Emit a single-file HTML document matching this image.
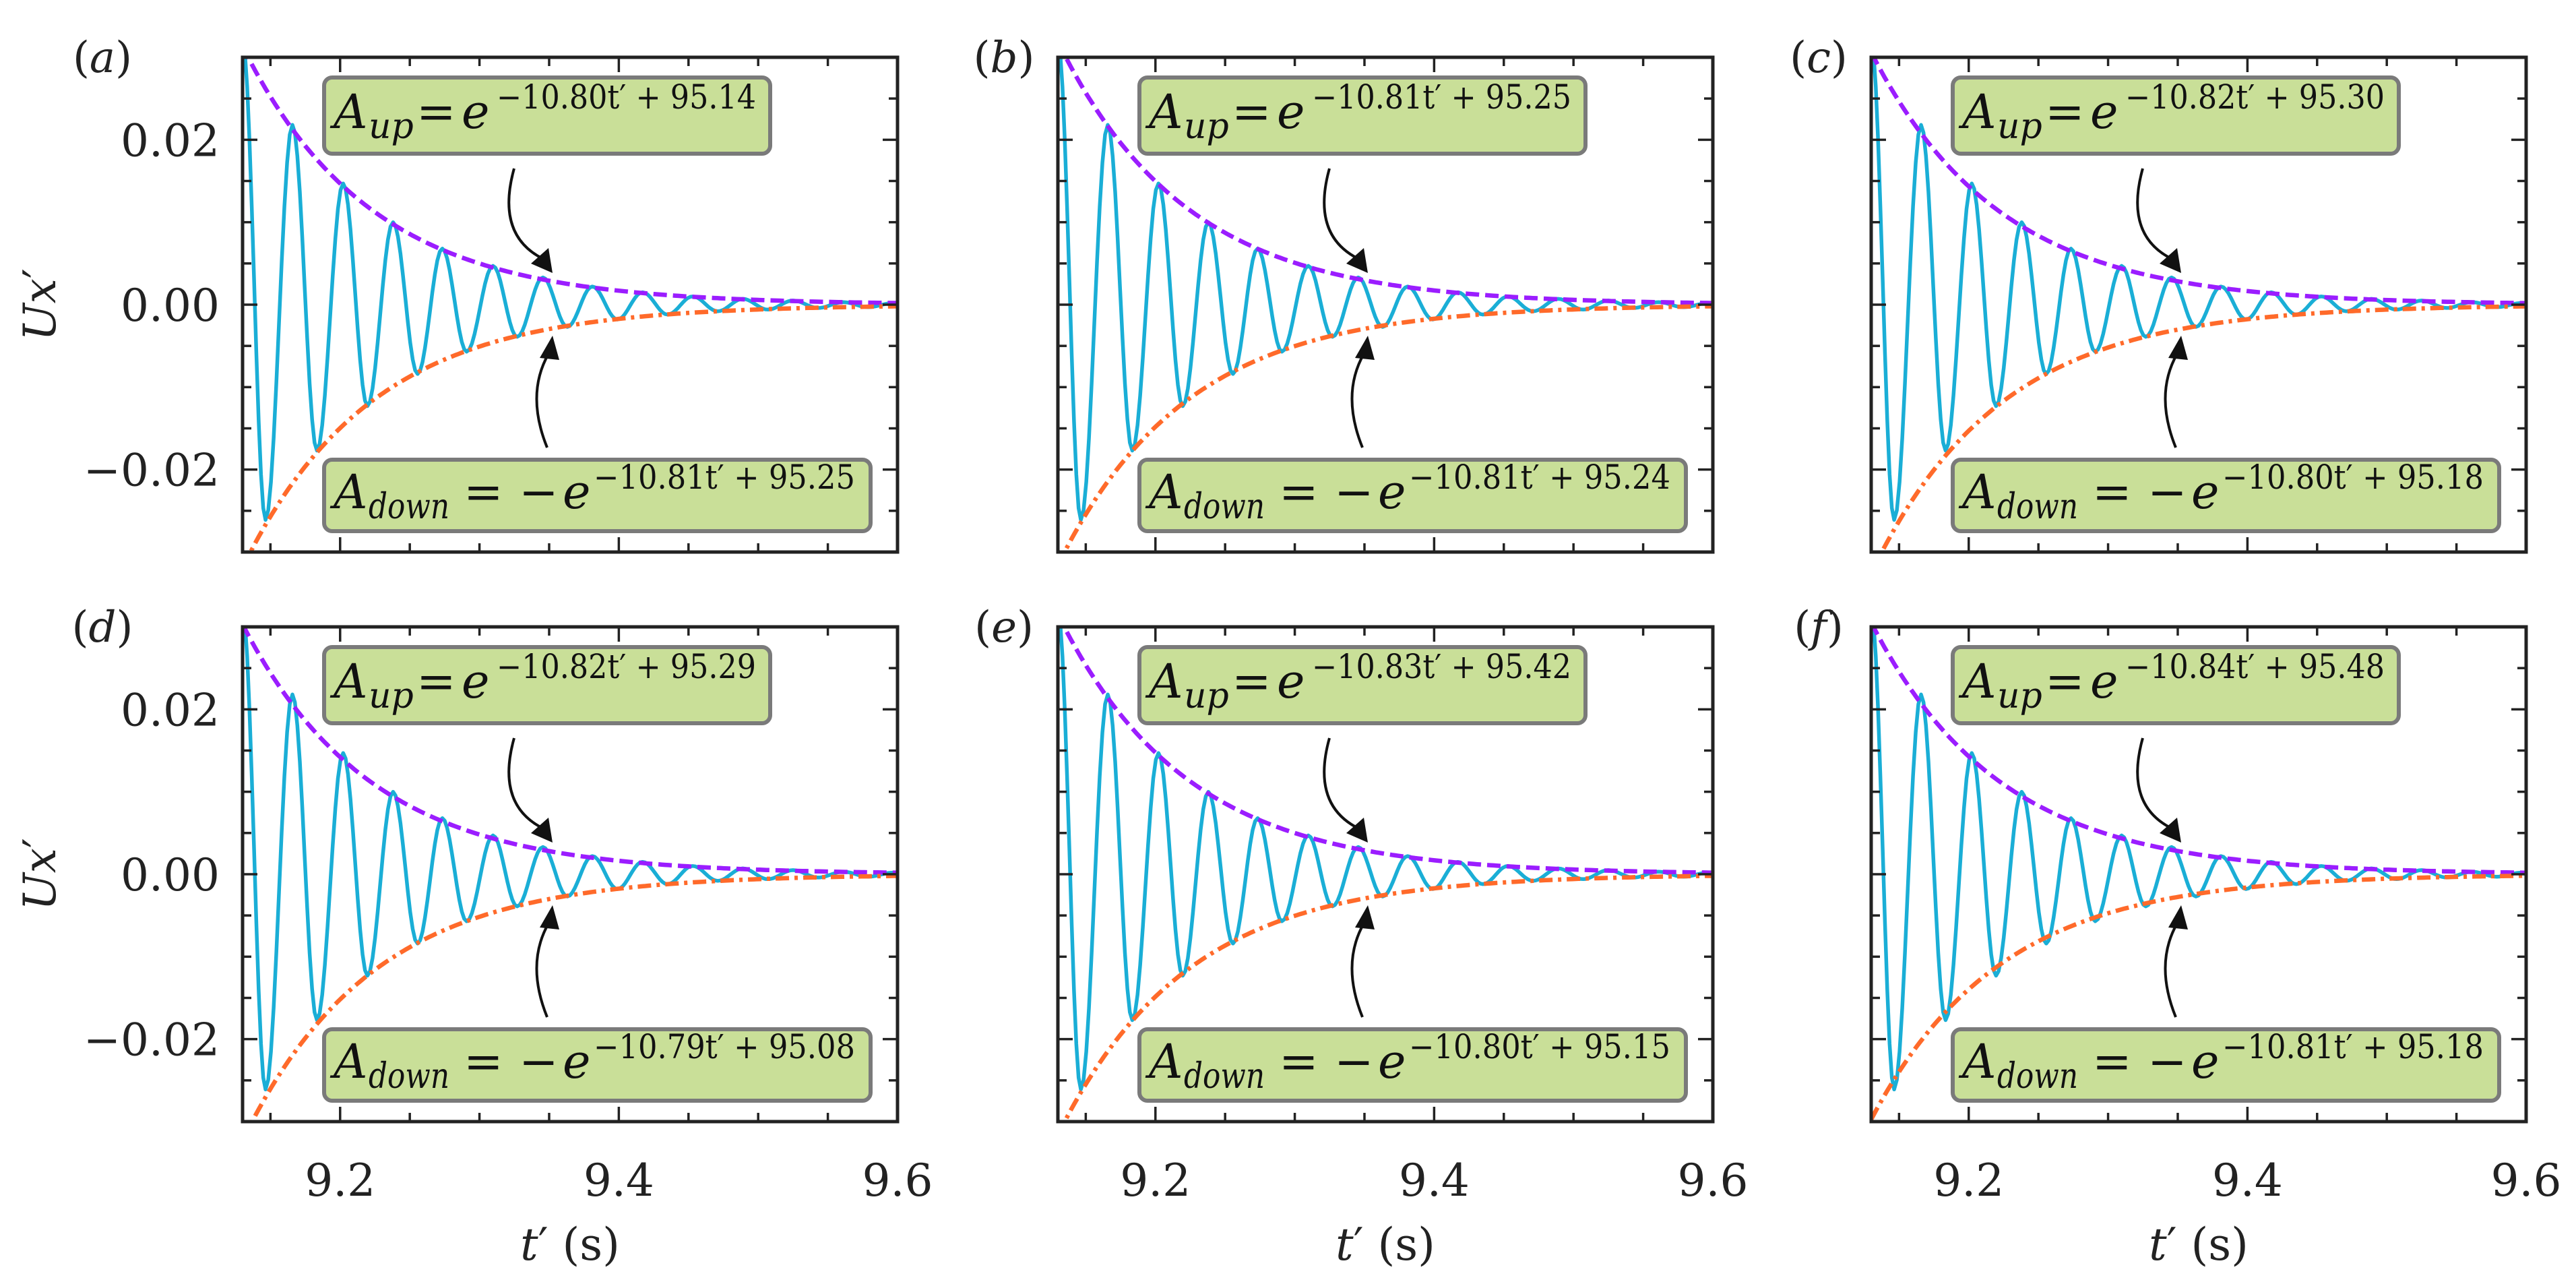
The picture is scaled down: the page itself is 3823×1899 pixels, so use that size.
<!DOCTYPE html>
<html><head><meta charset="utf-8"><style>
html,body{margin:0;padding:0;background:#fff;}
svg{display:block;}
text{font-family:"DejaVu Serif","Liberation Serif",serif;}
</style></head><body>
<svg id="fig" width="3823" height="1899" viewBox="0 0 3823 1899" xmlns="http://www.w3.org/2000/svg"></svg>
<script>
// ---- data ----
const panelLabels = ["(a)","(b)","(c)","(d)","(e)","(f)"];
const upSlope = [10.80,10.81,10.82,10.82,10.83,10.84];
const upIntercept = [95.14,95.25,95.30,95.29,95.42,95.48];
const downSlope = [10.81,10.81,10.80,10.79,10.80,10.81];
const downIntercept = [95.25,95.24,95.18,95.08,95.15,95.18];
const extremaT = [9.130,9.1465,9.1658,9.1834,9.2022,9.2196,9.238,9.2556,9.2733,9.2908,9.3097,9.327,9.3455,9.363,9.381,9.399,9.417,9.435,9.453,9.471,9.489,9.507,9.525,9.543,9.561,9.579,9.597,9.6];
const extremaU = [0.032,-0.0261,0.0218,-0.0177,0.0147,-0.0123,0.0100,-0.0084,0.0068,-0.0057,0.0047,-0.0039,0.0033,-0.0027,0.0022,-0.0018,0.0015,-0.0012,0.0010,-0.0008,0.0007,-0.0006,0.0005,-0.0004,0.0003,-0.0003,0.0002,0.0];
const xTicksMajor = [9.2,9.4,9.6];
const xTickLabels = ["9.2","9.4","9.6"];
const yTicksMajor = [0.02,0.0,-0.02];
const yTickLabels = ["0.02","0.00","\u22120.02"];
const xDomain = [9.13,9.6];
const yDomain = [-0.03,0.03];

// ---- layout ----
const NS="http://www.w3.org/2000/svg";
const svg=document.getElementById('fig');
const lefts=[360,1570,2777], tops=[85,930], PW=972, PH=734;
function mk(tag,attrs,parent){const e=document.createElementNS(NS,tag);for(const k in attrs)e.setAttribute(k,attrs[k]);(parent||svg).appendChild(e);return e;}

for(let p=0;p<6;p++){
  const col=p%3,row=Math.floor(p/3);
  const L=lefts[col],T=tops[row];
  const g=mk('g',{});
  
  
  const sx=v=>L+(v-xDomain[0])/(xDomain[1]-xDomain[0])*PW;
  const sy=v=>T+(yDomain[1]-v)/(yDomain[1]-yDomain[0])*PH;
  const cid='clip'+p;
  const cp=mk('clipPath',{id:cid},g); mk('rect',{x:L,y:T,width:PW,height:PH},cp);
  const plot=mk('g',{'clip-path':'url(#'+cid+')'},g);

  // signal
  let d='';
  for(let i=0;i<extremaT.length-1;i++){
    const t0=extremaT[i],t1=extremaT[i+1],u0=extremaU[i],u1=extremaU[i+1];
    const n=10;
    for(let k=(i===0?0:1);k<=n;k++){
      const f=k/n, w=(1-Math.cos(Math.PI*f))/2;
      const t=t0+(t1-t0)*f, u=u0+(u1-u0)*w;
      d+=(d?'L':'M')+sx(t).toFixed(1)+','+sy(u).toFixed(1);
    }
  }
  const sig=mk('path',{d:d,fill:'none',stroke:'#1aaed6','stroke-width':5.5,'stroke-linejoin':'round'},plot);
  
  

  // envelopes
  let du='',dd='';
  for(let k=0;k<=200;k++){
    const t=xDomain[0]+(xDomain[1]-xDomain[0])*k/200;
    const a=Math.exp(-upSlope[p]*t+upIntercept[p]);
    const b=-Math.exp(-downSlope[p]*t+downIntercept[p]);
    du+=(k?'L':'M')+sx(t).toFixed(1)+','+sy(a).toFixed(1);
    dd+=(k?'L':'M')+sx(t).toFixed(1)+','+sy(b).toFixed(1);
  }
  const eu=mk('path',{d:du,fill:'none',stroke:'#9b1dff','stroke-width':6.5,'stroke-dasharray':'20,9'},plot);
  
  
  const ed=mk('path',{d:dd,fill:'none',stroke:'#ff6a2a','stroke-width':6.5,'stroke-dasharray':'20,8,5,8'},plot);
  
  

  // ticks
  for(let v=9.15;v<=9.6001;v+=0.05){
    const isMaj=xTicksMajor.some(m=>Math.abs(m-v)<1e-6);
    const len=isMaj?22:13, x=sx(v);
    mk('line',{x1:x,y1:T+PH,x2:x,y2:T+PH-len,stroke:'#222','stroke-width':3.5},g);
    mk('line',{x1:x,y1:T,x2:x,y2:T+len,stroke:'#222','stroke-width':3.5},g);
  }
  for(let v=-0.025;v<=0.02501;v+=0.005){
    const isMaj=yTicksMajor.some(m=>Math.abs(m-v)<1e-6);
    const len=isMaj?22:13, y=sy(v);
    mk('line',{x1:L,y1:y,x2:L+len,y2:y,stroke:'#222','stroke-width':3.5},g);
    mk('line',{x1:L+PW,y1:y,x2:L+PW-len,y2:y,stroke:'#222','stroke-width':3.5},g);
  }
  const fr=mk('rect',{x:L,y:T,width:PW,height:PH,fill:'none',stroke:'#222','stroke-width':5},g);
  
  

  // tick labels
  if(row===1){
    xTicksMajor.forEach((v,i)=>{
      const tl=mk('text',{x:sx(v),y:T+PH+110,'font-size':66,'text-anchor':'middle',fill:'#222'},g);
      tl.textContent=xTickLabels[i];
      
      
    });
    const xl=mk('text',{x:L+PW/2,y:T+PH+205,'font-size':66,'text-anchor':'middle',fill:'#222'},g);
    xl.innerHTML='<tspan font-style="italic">t</tspan>\u2032 (s)';
    
    
  }
  if(col===0){
    yTicksMajor.forEach((v,i)=>{
      const tl=mk('text',{x:L-34,y:sy(v)+24,'font-size':66,'text-anchor':'end',fill:'#222'},g);
      tl.textContent=yTickLabels[i];
      
      
    });
    const yl=mk('text',{x:0,y:0,'font-size':66,'text-anchor':'middle',fill:'#222',transform:'translate(82,'+(T+PH/2)+') rotate(-90)'},g);
    yl.innerHTML='<tspan font-style="italic">U</tspan><tspan font-style="italic">x</tspan>\u2032';
    
    
  }
  const pl=mk('text',{x:L-(col===0?208:(col===1?80:78)),y:T+22,'font-size':64,'text-anchor':'middle',fill:'#222'},g);
  pl.innerHTML='(<tspan font-style="italic">'+'abcdef'[p]+'</tspan>)';
  
  

  // annotation boxes
  const ub=mk('rect',{x:L+121,y:T+30,width:662,height:113,rx:12,fill:'#c9df98',stroke:'#7a7a7a','stroke-width':6},g);
  
  
  const ut=mk('g',{fill:'#111'},g);
  
  
  mk('text',{x:L+135,y:T+105,'font-size':70,'font-style':'italic'},ut).textContent='A';
  mk('text',{x:L+187,y:T+120,'font-size':52,'font-style':'italic'},ut).textContent='up';
  mk('text',{x:L+258,y:T+105,'font-size':70},ut).textContent='=';
  mk('text',{x:L+325,y:T+105,'font-size':70,'font-style':'italic'},ut).textContent='e';
  const ue=mk('text',{x:L+377,y:T+76,'font-size':50,textLength:385,lengthAdjust:'spacingAndGlyphs'},ut);
  ue.textContent='\u2212'+upSlope[p].toFixed(2)+'t\u2032 + '+upIntercept[p].toFixed(2);

  const db=mk('rect',{x:L+121,y:T+597,width:811,height:106,rx:12,fill:'#c9df98',stroke:'#7a7a7a','stroke-width':6},g);
  
  
  const dt=mk('g',{fill:'#111'},g);
  
  
  mk('text',{x:L+135,y:T+669,'font-size':70,'font-style':'italic'},dt).textContent='A';
  mk('text',{x:L+187,y:T+684,'font-size':52,'font-style':'italic',textLength:120,lengthAdjust:'spacingAndGlyphs'},dt).textContent='down';
  mk('text',{x:L+328,y:T+669,'font-size':70},dt).textContent='=';
  mk('text',{x:L+410,y:T+669,'font-size':70},dt).textContent='\u2212';
  mk('text',{x:L+475,y:T+669,'font-size':70,'font-style':'italic'},dt).textContent='e';
  const de=mk('text',{x:L+521,y:T+640,'font-size':50,textLength:388,lengthAdjust:'spacingAndGlyphs'},dt);
  de.textContent='\u2212'+downSlope[p].toFixed(2)+'t\u2032 + '+downIntercept[p].toFixed(2);

  // arrows
  const a1=mk('g',{},g);
  
  
  mk('path',{d:`M${L+403},${T+165} Q${L+375},${T+265} ${L+448},${T+300}`,fill:'none',stroke:'#111','stroke-width':4},a1);
  mk('polygon',{points:`${L+460},${T+320} ${L+428},${T+306} ${L+454},${T+283}`,fill:'#111'},a1);
  const a2=mk('g',{},g);
  
  
  mk('path',{d:`M${L+452},${T+579} Q${L+420},${T+500} ${L+454},${T+440}`,fill:'none',stroke:'#111','stroke-width':4},a2);
  mk('polygon',{points:`${L+460},${T+413} ${L+441},${T+446} ${L+470},${T+449}`,fill:'#111'},a2);
}
</script>
</body></html>
